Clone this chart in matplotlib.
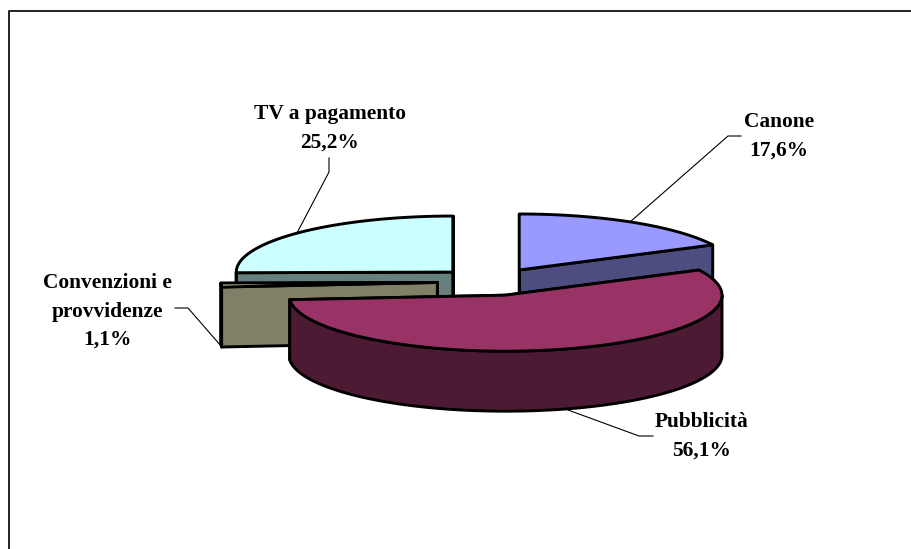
import numpy as np
import matplotlib
matplotlib.use("Agg")
import matplotlib.pyplot as plt

names = ["Canone", "Pubblicità", "Convenzioni e\nprovvidenze", "TV a pagamento"]
shares = [17.6, 56.1, 1.1, 25.2]
colors = ["#9999FF", "#993366", "#FFFFCC", "#CCFFFF"]

# pie geometry, in pixels of the picture
cx, cy = 491, 281.8
rx, ry = 216.5, 56
depth = 60
explode = 0.248

label_pos = [(779, 122), (702, 422), (107, 283), (330, 114)]
leaders = [
    [(741, 136), (728, 136), (630, 222)],
    [(653, 436), (639, 436), (568, 410)],
    [(175, 308), (188, 308), (221, 346)],
    [(329, 158), (329, 172), (297, 233)],
]


def rim(a, b, ox, oy):
    t = np.radians(np.linspace(a, b, max(2, int(abs(b - a) * 2))))
    return ox + rx * np.sin(t), oy - ry * np.cos(t)


def draw_slice(ax, a, b, color, z):
    mid = np.radians((a + b) / 2)
    ox = cx + explode * rx * np.sin(mid)
    oy = cy - explode * ry * np.cos(mid)
    dark = tuple(0.5 * c for c in matplotlib.colors.to_rgb(color))
    style = dict(edgecolor="black", linewidth=2.1, joinstyle="round", zorder=z)

    # cut faces first, end one behind the start one
    for ang in (b, a):
        x, y = rim(ang, ang, ox, oy)
        px = [ox, x[0], x[0], ox]
        py = [oy, y[0], y[0] + depth, oy + depth]
        ax.fill(px, py, facecolor=dark, **style)

    # outer wall, only the part turned to the viewer
    lo, hi = max(a, 90), min(b, 270)
    if hi > lo:
        x, y = rim(lo, hi, ox, oy)
        px = np.concatenate([x, x[::-1]])
        py = np.concatenate([y, y[::-1] + depth])
        ax.fill(px, py, facecolor=dark, **style)

    x, y = rim(a, b, ox, oy)
    ax.fill(np.r_[ox, x], np.r_[oy, y], facecolor=color, **style)


fig = plt.figure(figsize=(9.12, 5.49), dpi=100)
ax = fig.add_axes([0, 0, 1, 1])
ax.set_xlim(0, 912)
ax.set_ylim(549, 0)
ax.axis("off")

# chart area border, the right and bottom sides are cut off
ax.plot([9.5, 9.5, 912], [549, 10.5, 10.5], color="#222222", lw=1.4, zorder=1)

edges = np.r_[0, np.cumsum(shares)] * 3.6
order = [3, 0, 2, 1]  # back to front
for z, i in enumerate(order):
    draw_slice(ax, edges[i], edges[i + 1], colors[i], 3 + z)

for pts in leaders:
    xs, ys = zip(*pts)
    ax.plot(xs, ys, color="black", lw=0.8, zorder=2)

for name, val, (x, y) in zip(names, shares, label_pos):
    lines = name.split("\n") + [f"{val:.1f}%".replace(".", ",")]
    for k, line in enumerate(lines):
        ax.text(x, y + k * 28.5, line, ha="center", va="center",
                family="Liberation Serif", weight="bold", fontsize=15.4, zorder=10)

fig.savefig("out.png", dpi=100, facecolor="white")
